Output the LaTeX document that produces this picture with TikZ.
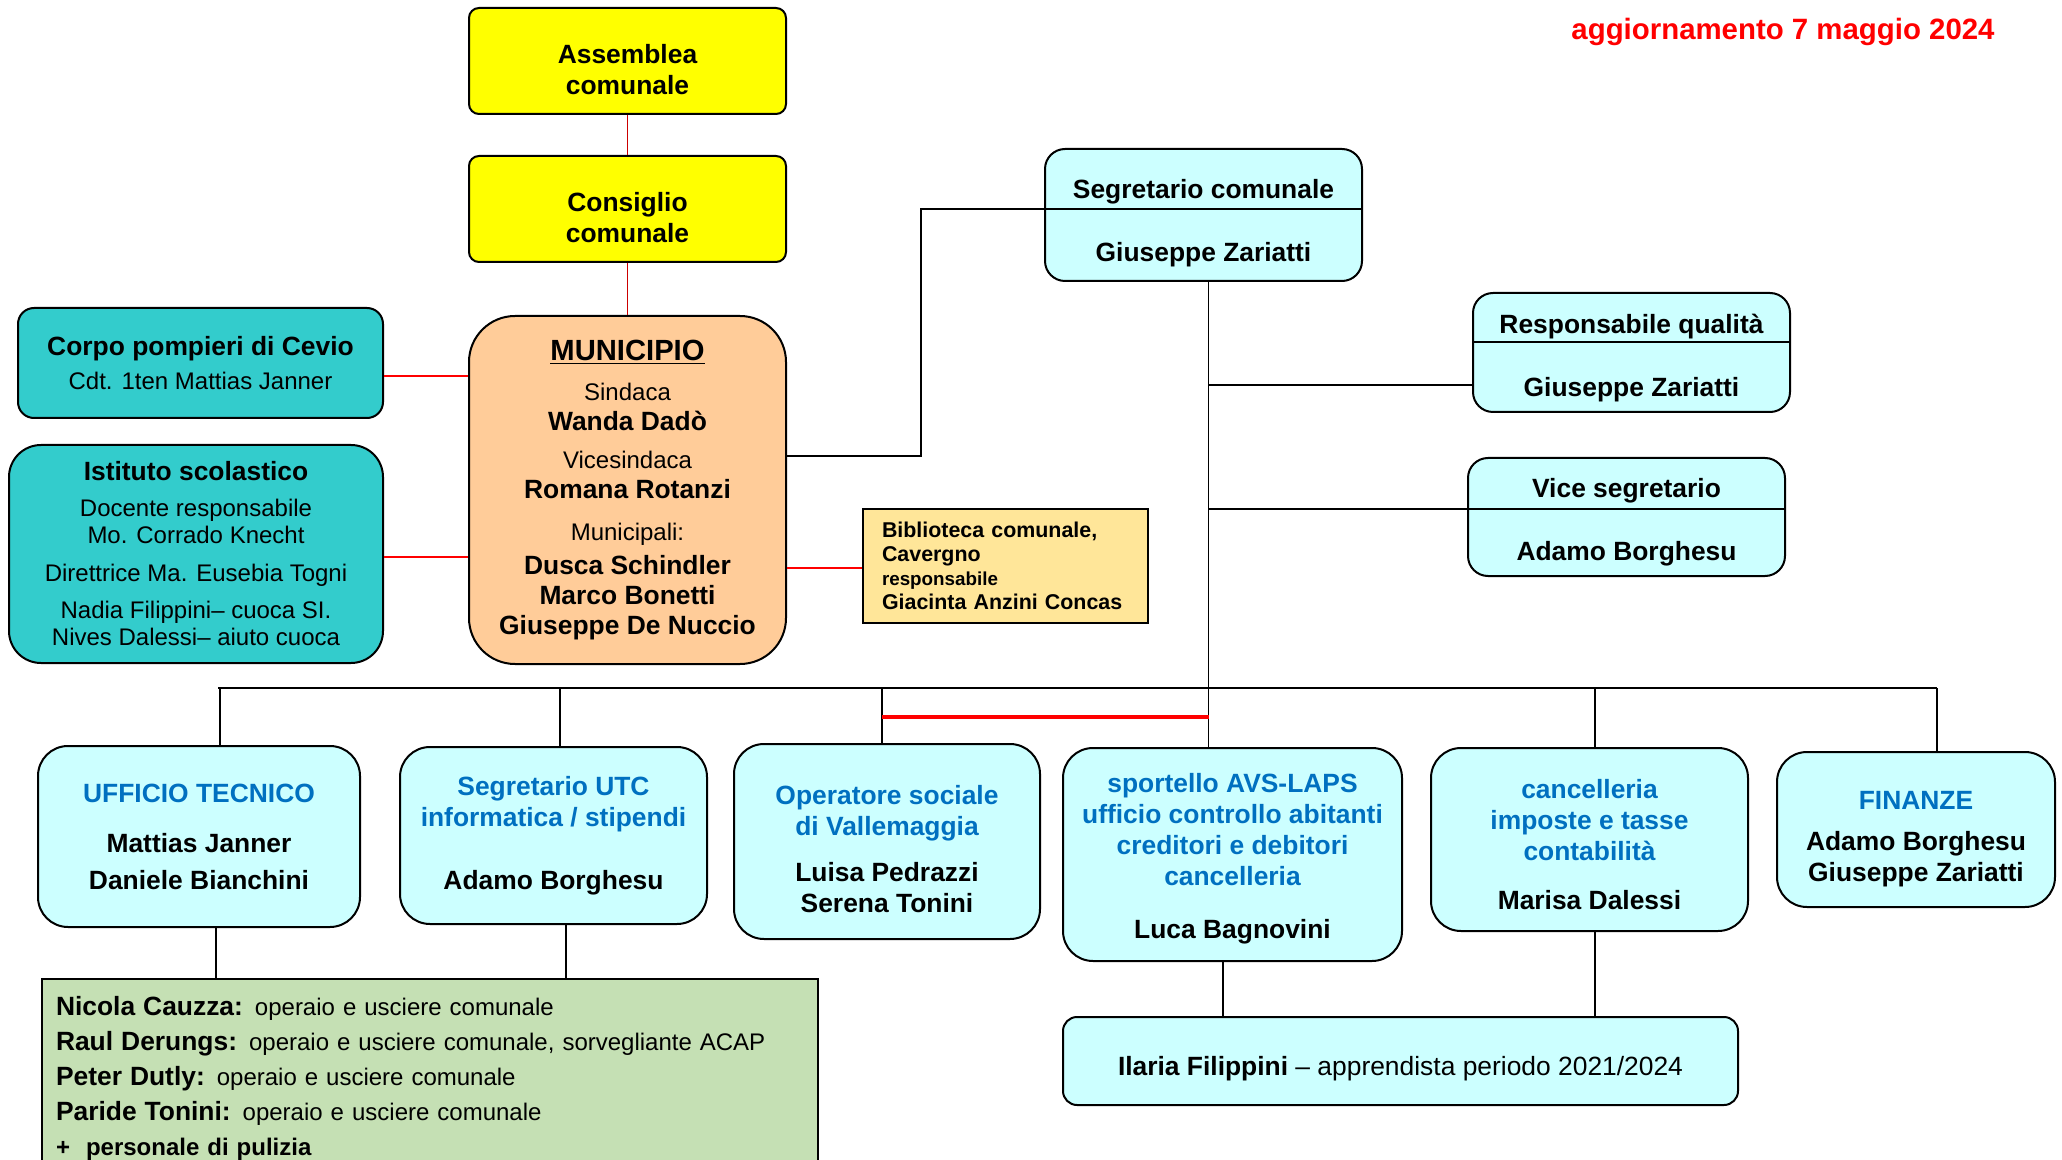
\documentclass[tikz,border=0pt]{standalone}
\usepackage{fontspec}
\setmainfont{Liberation Sans}

\definecolor{councilyellow}{HTML}{FFFF00}
\definecolor{peach}{HTML}{FFCC99}
\definecolor{tealbox}{HTML}{33CCCC}
\definecolor{officecyan}{HTML}{CCFFFF}
\definecolor{biblio}{HTML}{FFE699}
\definecolor{staffgreen}{HTML}{C5E0B4}
\definecolor{uffblue}{HTML}{0070C0}

\newcommand{\boldname}{\fontsize{13.2}{15.5}\selectfont\bfseries}
\newcommand{\plainrole}{\fontsize{12}{15}\selectfont\mdseries}
\newcommand{\unittitle}{\color{uffblue}\boldname}
% pushes the text of a box down: first line made taller
\newcommand{\topgap}[1]{\rule{0pt}{#1}}

\begin{document}
\begin{tikzpicture}[
                x=0.5pt, y=-0.5pt,
                box/.style={draw, line width=1pt, align=center, inner sep=0pt, font=\boldname},
                council/.style={box, fill=councilyellow, rounded corners=5pt, minimum width=158.5pt, minimum height=53pt},
                side/.style={box, fill=tealbox, rounded corners=#1, font=\plainrole},
                office/.style={box, fill=officecyan, rounded corners=10pt, minimum width=158.5pt},
                unit/.style={box, fill=officecyan, rounded corners=15pt},
                link/.style={line width=0.8pt},
                redlink/.style={red, line width=0.8pt}
            ]
            \useasboundingbox (0,0) rectangle (2062,1160);
            \clip (0,0) rectangle (2062,1160);

            % date of the update
            \node[text=red, font=\fontsize{14.7}{17}\selectfont\bfseries] (upd) at (1783,32) {aggiornamento 7 maggio 2024};

            % political bodies
            \node[council] (asm) at (627.5,61) {\topgap{18.6pt}Assemblea\\comunale};
            \node[council] (cons) at (627.5,209) {\topgap{18.6pt}Consiglio\\comunale};
            \node[box, fill=peach, rounded corners=23pt, minimum width=158.5pt, minimum height=174pt, font=\plainrole] (muni) at (627.5,490)
                {{\fontsize{14.6}{17}\selectfont\bfseries\underline{MUNICIPIO}}\\[5pt]
                 Sindaca\\{\boldname Wanda Dadò}\\[4pt]
                 Vicesindaca\\{\boldname Romana Rotanzi}\\[6pt]
                 Municipali:\\[2pt]
                 {\boldname Dusca Schindler}\\{\boldname Marco Bonetti}\\{\boldname Giuseppe De Nuccio}};

            % boxes at the side of the Municipio
            \node[side=8pt, minimum width=182.5pt, minimum height=55pt] (pomp) at (200.5,363)
                {{\boldname Corpo pompieri di Cevio}\\[2pt]Cdt. 1ten Mattias Janner};
            \node[side=16pt, minimum width=187pt, minimum height=109pt, font=\fontsize{12}{13.5}\selectfont] (ist) at (196,554)
                {{\boldname Istituto scolastico}\\[4.5pt]Docente responsabile\\Mo. Corrado Knecht\\[5.5pt]
                 Direttrice Ma. Eusebia Togni\\[5pt]Nadia Filippini– cuoca SI.\\Nives Dalessi– aiuto cuoca};
            \node[draw, line width=0.8pt, fill=biblio, minimum height=57pt, text width=123.5pt, align=left, inner xsep=9.5pt,
                  font=\fontsize{10.7}{12}\selectfont\bfseries] (bib) at (1005.5,566)
                {Biblioteca comunale,\\Cavergno\\{\fontsize{9.4}{11}\selectfont responsabile}\\Giacinta Anzini Concas};

            % secretary and staff roles
            \node[office, minimum height=66pt] (segc) at (1203.5,215) {\topgap{17.6pt}Segretario comunale\\[16pt]Giuseppe Zariatti};
            \node[office, minimum height=59.5pt] (resp) at (1631.5,352.5) {\topgap{14.8pt}Responsabile qualità\\[16pt]Giuseppe Zariatti};
            \node[office, minimum height=59pt] (vice) at (1626.5,517) {\topgap{14.8pt}Vice segretario\\[16pt]Adamo Borghesu};
            \draw[link, line width=1pt] ([yshift=3pt]segc.west) -- ([yshift=3pt]segc.east);
            \draw[link, line width=1pt] ([yshift=5.25pt]resp.west) -- ([yshift=5.25pt]resp.east);
            \draw[link, line width=1pt] ([yshift=4pt]vice.west) -- ([yshift=4pt]vice.east);

            % offices
            \node[unit, minimum width=161pt, minimum height=90.5pt] (tecn) at (199,836.5)
                {{\unittitle UFFICIO TECNICO}\\[9.5pt]Mattias Janner\\[3pt]Daniele Bianchini};
            \node[unit, minimum width=153.5pt, minimum height=88.5pt] (utc) at (553.5,835.5)
                {{\unittitle Segretario UTC}\\{\unittitle informatica / stipendi}\\[16pt]Adamo Borghesu};
            \node[unit, minimum width=153pt, minimum height=97.5pt] (oper) at (887,841.5)
                {\topgap{17.6pt}{\unittitle Operatore sociale}\\{\unittitle di Vallemaggia}\\[7.5pt]Luisa Pedrazzi\\Serena Tonini};
            \node[unit, minimum width=169.5pt, minimum height=106.5pt] (spor) at (1232.5,854.5)
                {\topgap{13.6pt}{\unittitle sportello AVS-LAPS}\\{\unittitle ufficio controllo abitanti}\\{\unittitle creditori e debitori}\\{\unittitle cancelleria}\\[11pt]Luca Bagnovini};
            \node[unit, minimum width=158.5pt, minimum height=91.5pt] (canc) at (1589.5,839.5)
                {\topgap{14.8pt}{\unittitle cancelleria}\\{\unittitle imposte e tasse}\\{\unittitle contabilità}\\[9pt]Marisa Dalessi};
            \node[unit, minimum width=139pt, minimum height=77.5pt] (fin) at (1916,829.5)
                {\topgap{18.8pt}{\unittitle FINANZE}\\[5pt]Adamo Borghesu\\Giuseppe Zariatti};

            % workers and apprentice
            \node[draw, line width=1pt, fill=staffgreen, anchor=north west, text width=374pt, align=left, inner xsep=7pt, inner ysep=8.8pt,
                  font=\fontsize{12}{17.5}\selectfont] (staff) at (41,978)
                {{\boldname Nicola Cauzza:} operaio e usciere comunale\\
                 {\boldname Raul Derungs:} operaio e usciere comunale, sorvegliante ACAP\\
                 {\boldname Peter Dutly:} operaio e usciere comunale\\
                 {\boldname Paride Tonini:} operaio e usciere comunale\\
                 {\bfseries +\ \ personale di pulizia}};
            \node[unit, rounded corners=7pt, minimum width=337.5pt, minimum height=44pt] (ilaria) at (1400.5,1061)
                {\topgap{17.6pt}Ilaria Filippini {\fontsize{13.2}{15.5}\selectfont\mdseries – apprendista periodo 2021/2024}};

            % red links of the Municipio
            \draw[redlink, red!80!black] (asm) -- (cons);
            \draw[redlink, red!80!black] (cons) -- (muni);
            \draw[redlink] ([yshift=-6.5pt]pomp.east) -- ([yshift=-6.5pt]pomp.east -| muni.west);
            \draw[redlink] ([yshift=-1.5pt]ist.east) -- ([yshift=-1.5pt]ist.east -| muni.west);
            \draw[redlink] ([yshift=-1pt]bib.west) -- ([yshift=-1pt]bib.west -| muni.east);

            % Municipio to Segretario comunale
            \draw[link, line width=1pt] ([yshift=17pt]muni.east) -| ([xshift=-61.5pt, yshift=3pt]segc.west) -- ([yshift=3pt]segc.west);

            % Segretario comunale down to the offices
            \coordinate (segdown) at ([xshift=2.5pt]segc.south);
            \coordinate (qualtap) at ([yshift=-16.25pt]resp.west);
            \coordinate (vicetap) at ([yshift=4pt]vice.west);
            \coordinate (busL) at (218,688);
            \coordinate (busR) at (1937,688);
            \draw[link] (segdown) -- (segdown |- spor.north);
            \draw[link] (qualtap) -- (segdown |- qualtap);
            \draw[link] (vicetap) -- (segdown |- vicetap);
            \draw[link, line width=1pt] (busL) -- (busR);
            \foreach \unit/\dx in {tecn/10.5pt, utc/3.25pt, oper/-2.5pt, canc/2.75pt, fin/10.5pt}
                \draw[link] ([xshift=\dx]\unit.north) -- ([xshift=\dx]\unit.north |- busL);
            \coordinate (opertap) at (882,717);
            \draw[redlink, line width=1.6pt] (opertap) -- (opertap -| segdown);

            % offices down to staff
            \draw[link] ([xshift=8.5pt]tecn.south) -- ([xshift=8.5pt]tecn.south |- staff.north);
            \draw[link] ([xshift=6.25pt]utc.south) -- ([xshift=6.25pt]utc.south |- staff.north);
            \draw[link] ([xshift=-4.75pt]spor.south) -- ([xshift=-4.75pt]spor.south |- ilaria.north);
            \draw[link] ([xshift=2.75pt]canc.south) -- ([xshift=2.75pt]canc.south |- ilaria.north);
        \end{tikzpicture}
\end{document}
